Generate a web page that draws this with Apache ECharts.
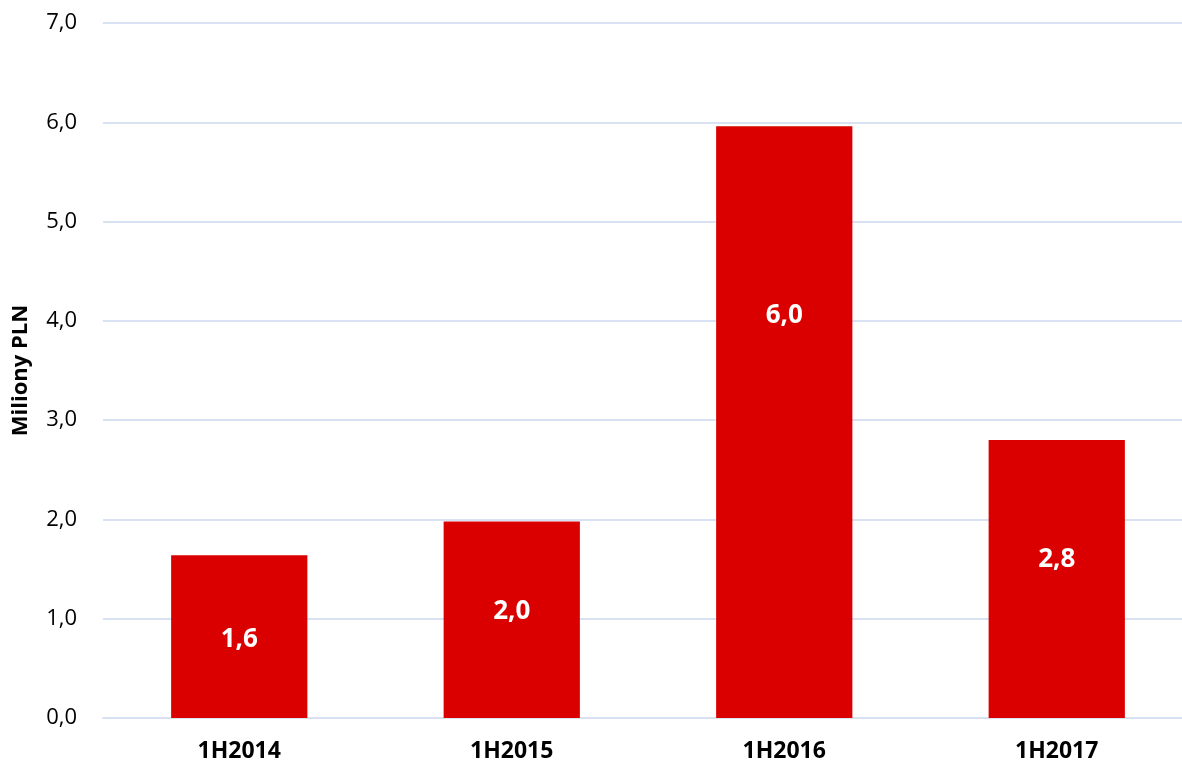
<!DOCTYPE html>
<html>
<head>
<meta charset="utf-8">
<script src="https://cdn.jsdelivr.net/npm/echarts@6/dist/echarts.min.js"></script>
<style>
  html, body { margin: 0; padding: 0; background: #fff; }
  #chart { width: 1182px; height: 763px; }
</style>
</head>
<body>
<div id="chart"></div>
<script>
// Half-year periods and values (millions PLN)
const periods = ['1H2014', '1H2015', '1H2016', '1H2017'];
const values = [1.64, 1.98, 5.96, 2.8];
const axisTitle = 'Miliony PLN';

// Vertical nudges for the value labels inside each bar (px)
const labelNudge = [3, -8, -107, -19];

const FONT = '"Open Sans", "Liberation Sans", sans-serif';
const fmt = v => v.toFixed(1).replace('.', ',');

const chart = echarts.init(document.getElementById('chart'), null, { renderer: 'canvas' });

chart.setOption({
  animation: false,
  backgroundColor: '#ffffff',
  grid: {
    left: 103, top: 23, width: 1090, height: 695,
    containLabel: false,
    outerBoundsMode: 'none'
  },
  xAxis: {
    type: 'category',
    data: periods,
    axisLine: { show: true, lineStyle: { color: '#D9E2F3', width: 2 } },
    axisTick: { show: false },
    axisLabel: {
      margin: 22,
      fontFamily: FONT, fontSize: 23, fontWeight: 'bold', color: '#000'
    }
  },
  yAxis: {
    type: 'value',
    min: 0, max: 7, interval: 1,
    name: axisTitle,
    nameLocation: 'middle',
    nameGap: 71,
    nameTextStyle: { fontFamily: FONT, fontSize: 22, fontWeight: 'bold', color: '#000' },
    axisLine: { show: false },
    axisTick: { show: false },
    axisLabel: {
      margin: 26,
      fontFamily: FONT, fontSize: 22, color: '#000',
      formatter: v => fmt(v)
    },
    splitLine: { lineStyle: { color: '#D9E2F3', width: 2 } }
  },
  series: [{
    type: 'bar',
    barWidth: '50%',
    data: values.map((v, i) => ({
      value: v,
      label: { offset: [0, labelNudge[i]] }
    })),
    itemStyle: { color: '#DA0000' },
    label: {
      show: true,
      position: 'inside',
      fontFamily: FONT, fontSize: 26, fontWeight: 'bold', color: '#fff',
      formatter: p => fmt(p.value)
    }
  }]
});
</script>
</body>
</html>
